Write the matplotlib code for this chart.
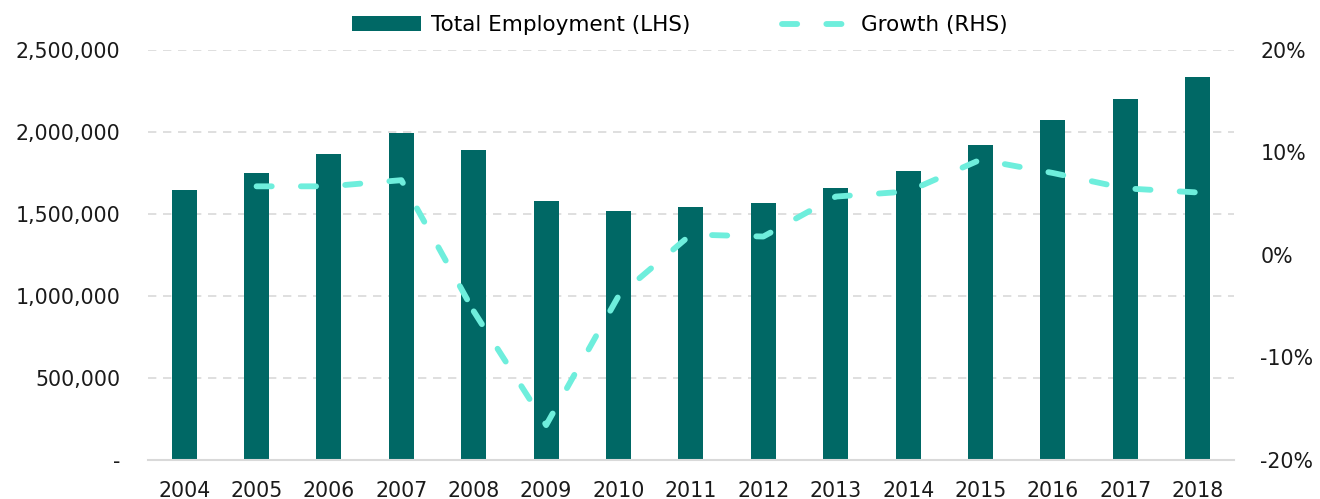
import numpy as np
from matplotlib import pyplot as plt
from matplotlib.ticker import FuncFormatter
from matplotlib.lines import Line2D
from matplotlib.patches import Patch

years = [str(y) for y in range(2004, 2019)]
employment = [1645000, 1748000, 1866000, 1996000, 1892000, 1579000, 1516000, 1541000,
              1567000, 1659000, 1762000, 1919000, 2073000, 2203000, 2334000]
# growth starts in 2005
growth_years = years[1:]
growth = [6.7, 6.7, 7.3, -5.5, -16.6, -4.0, 2.0, 1.8, 5.7, 6.2, 9.3, 8.0, 6.5, 6.1]

BAR_COLOR = '#006865'
LINE_COLOR = '#6EEEDC'
GRID_COLOR = '#D9D9D9'
DASHES = (0, (2.6, 5.0))

plt.rcParams['font.family'] = ['DejaVu Sans']
plt.rcParams['font.size'] = 14


def main():
    fig = plt.figure(figsize=(13.2, 4.99), dpi=100)
    ax = fig.add_axes([0.1121, 0.0782, 0.8227, 0.8216])
    x = np.arange(len(years))

    ax.bar(x, employment, width=0.345, color=BAR_COLOR, zorder=2)
    ax.set_xlim(-0.5, len(years) - 0.5)
    ax.set_ylim(0, 2500000)
    ax.set_yticks(np.arange(0, 2500001, 500000))
    ax.yaxis.set_major_formatter(FuncFormatter(lambda v, p: '-' if v == 0 else f'{v:,.0f}'))
    ax.set_xticks(x)
    ax.set_xticklabels(years)
    ax.grid(axis='y', color=GRID_COLOR, linestyle=(0, (5, 4)), linewidth=1.2, zorder=0)

    for s in ['top', 'right', 'left']:
        ax.spines[s].set_visible(False)
    ax.spines['bottom'].set_color(GRID_COLOR)
    ax.spines['bottom'].set_linewidth(1.5)
    ax.tick_params(axis='both', length=0, labelsize=14.8, colors='#1a1a1a')
    ax.tick_params(axis='y', pad=20)
    ax.tick_params(axis='x', pad=15)

    ax2 = ax.twinx()
    gx = np.arange(1, len(years))
    # draw first part and rest separately so a dash lands on the 2009 dip
    ax2.plot(gx[:4], growth[:4], color=LINE_COLOR, linewidth=4.2, linestyle=DASHES,
             dash_capstyle='round', zorder=3)
    ax2.plot(gx[3:], growth[3:], color=LINE_COLOR, linewidth=4.2, linestyle=DASHES,
             dash_capstyle='round', zorder=3)
    ax2.set_ylim(-20, 20)
    ax2.set_yticks([-20, -10, 0, 10, 20])
    ax2.yaxis.set_major_formatter(FuncFormatter(lambda v, p: f'{v:.0f}%'))
    for s in ['top', 'right', 'left', 'bottom']:
        ax2.spines[s].set_visible(False)
    ax2.tick_params(axis='y', length=0, labelsize=14.8, colors='#1a1a1a', pad=19)

    handles = [Patch(facecolor=BAR_COLOR, label='Total Employment (LHS)'),
               Line2D([0], [0], color=LINE_COLOR, linewidth=4.2, linestyle=DASHES,
                      dash_capstyle='round', label='Growth (RHS)')]
    fig.legend(handles=handles, loc='center', bbox_to_anchor=(0.515, 0.95), ncol=2,
               frameon=False, fontsize=15.5, handlelength=3.2, handleheight=0.65,
               columnspacing=4.3, handletextpad=0.45)

    fig.savefig('out.png', dpi=100)


if __name__ == "__main__":
    main()
